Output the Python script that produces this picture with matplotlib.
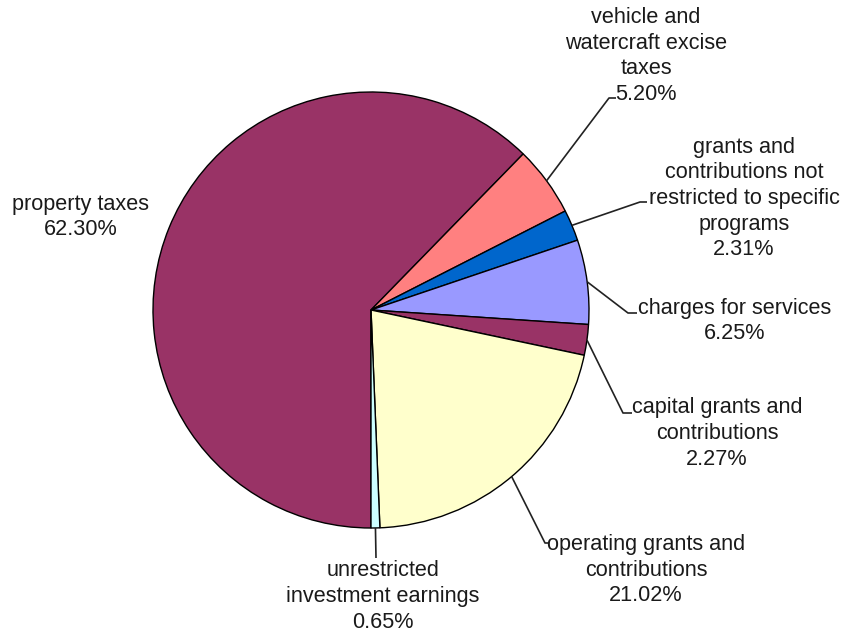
import numpy as np
import matplotlib
matplotlib.use("Agg")
import matplotlib.pyplot as plt

plt.rcParams['font.family'] = ['Liberation Sans', 'DejaVu Sans']

# Revenue sources (percent of total), drawn clockwise from the bottom
categories = [
    "property taxes",
    "vehicle and\nwatercraft excise\ntaxes",
    "grants and\ncontributions not\nrestricted to specific\nprograms",
    "charges for services",
    "capital grants and\ncontributions",
    "operating grants and\ncontributions",
    "unrestricted\ninvestment earnings",
]
shares = [62.30, 5.20, 2.31, 6.25, 2.27, 21.02, 0.65]
colors = ["#993366", "#FF8080", "#0066CC", "#9999FF", "#993366", "#FFFFCC", "#CCFFFF"]

W, H = 845, 632
fig = plt.figure(figsize=(W / 100, H / 100), dpi=100)
ax = fig.add_axes([0, 0, 1, 1])

cx, cy, R = 371, H - 310, 218
wedges, _ = ax.pie(shares, colors=colors, startangle=-90, counterclock=False,
                   center=(cx, cy), radius=R,
                   wedgeprops=dict(edgecolor="black", linewidth=1.0))
ax.set_xlim(0, W)
ax.set_ylim(0, H)
ax.set_aspect("equal")
ax.axis("off")

# label block centre (x, y in pixels from top) and leader path: elbow and end point
label_pos = [
    (81, 217),
    (646, 56),
    (744, 198.5),
    (735, 321),
    (717, 433.5),
    (646, 570),
    (383, 596.5),
]
leaders = [
    None,
    [(609, 98), (616, 98)],
    [(640, 202), (647, 202)],
    [(628, 313), (637, 313)],
    [(623, 413), (632, 413)],
    [(545, 543), (548, 543)],
    [(376, 558)],
]

txt_color = "#1a1a1a"
for w, cat, val, (lx, ly), path in zip(wedges, categories, shares, label_pos, leaders):
    ax.text(lx, H - ly, f"{cat}\n{val:.2f}%", ha="center", va="center",
            multialignment="center", fontsize=15.6, color=txt_color, linespacing=1.29)
    if path is None:
        continue
    mid = np.deg2rad((w.theta1 + w.theta2) / 2)
    x0, y0 = cx + R * np.cos(mid), cy + R * np.sin(mid)
    xs = [x0] + [p[0] for p in path]
    ys = [y0] + [H - p[1] for p in path]
    ax.plot(xs, ys, color="#222222", linewidth=1.2, solid_capstyle="butt")

fig.savefig("out.png", dpi=100, facecolor="white")
